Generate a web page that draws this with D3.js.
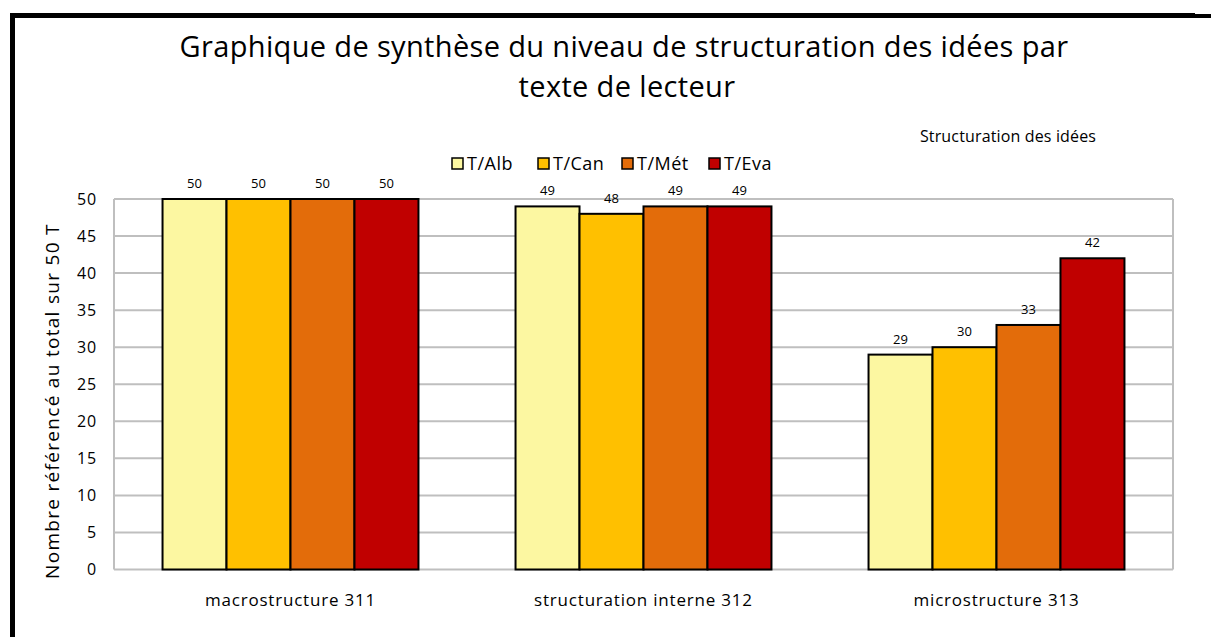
<!DOCTYPE html>
<html>
<head>
<meta charset="utf-8">
<script src="https://cdn.jsdelivr.net/npm/d3@7"></script>
<style>
  body { margin: 0; background: #fff; }
  svg { display: block; font-family: "Open Sans", "Noto Sans", sans-serif; }
</style>
</head>
<body>
<svg id="chart" width="1211" height="637"></svg>
<script>
// chart data
const categories = ["macrostructure 311", "structuration interne 312", "microstructure 313"]
const seriesNames = ["T/Alb", "T/Can", "T/Mét", "T/Eva"]
const seriesColors = ["#FCF7A1", "#FFC000", "#E36C0A", "#C00000"]
const valAlb = [50, 49, 29]
const valCan = [50, 48, 30]
const valMet = [50, 49, 33]
const valEva = [50, 49, 42]
const yTicks = [0, 5, 10, 15, 20, 25, 30, 35, 40, 45, 50]

const seriesValues = [valAlb, valCan, valMet, valEva]

const svg = d3.select("#chart")

const margin = {left: 114, right: 1173, top: 199, bottom: 569.5}

// frame lines (black border at top and left)
svg.append("rect").attr("x", 10).attr("y", 13).attr("width", 1185).attr("height", 5).attr("fill", "#000")
svg.append("rect").attr("x", 1193).attr("y", 14).attr("width", 18).attr("height", 4).attr("fill", "#000")
svg.append("rect").attr("x", 10).attr("y", 13).attr("width", 5).attr("height", 624).attr("fill", "#000")

// title
const title = svg.append("text")
    .attr("text-anchor", "middle")
    .attr("font-size", 29)
    .attr("letter-spacing", 0.35)
    .attr("fill", "#000")
title.append("tspan").attr("x", 624).attr("y", 57).text("Graphique de synthèse du niveau de structuration des idées par")
title.append("tspan").attr("x", 627).attr("y", 97).text("texte de lecteur")

svg.append("text")
    .attr("x", 1008)
    .attr("y", 142)
    .attr("text-anchor", "middle")
    .attr("font-size", 16)
    .attr("letter-spacing", 0.15)
    .text("Structuration des idées")

const x0 = d3.scaleBand()
    .domain(categories)
    .range([margin.left, margin.right])
    .paddingInner(0.275)
    .paddingOuter(0.1375)

const x1 = d3.scaleBand()
    .domain(seriesNames)
    .range([0, x0.bandwidth()])

const y = d3.scaleLinear()
    .domain([0, 50])
    .range([margin.bottom, margin.top])

// gridlines
svg.append("g")
    .selectAll("line")
    .data(yTicks)
    .join("line")
    .attr("x1", margin.left)
    .attr("x2", margin.right)
    .attr("y1", (d) => y(d))
    .attr("y2", (d) => y(d))
    .attr("stroke", "#bfbfbf")
    .attr("stroke-width", 2)

// plot side borders
svg.append("line").attr("x1", margin.left).attr("x2", margin.left)
    .attr("y1", margin.top).attr("y2", margin.bottom)
    .attr("stroke", "#bfbfbf").attr("stroke-width", 2)
svg.append("line").attr("x1", margin.right).attr("x2", margin.right)
    .attr("y1", margin.top).attr("y2", margin.bottom)
    .attr("stroke", "#bfbfbf").attr("stroke-width", 2)

// y tick labels
svg.append("g")
    .selectAll("text")
    .data(yTicks)
    .join("text")
    .attr("x", 97)
    .attr("y", (d) => y(d))
    .attr("dy", "0.36em")
    .attr("text-anchor", "end")
    .attr("font-size", 16)
    .attr("letter-spacing", 0.8)
    .text((d) => d)

// y axis title
svg.append("text")
    .attr("transform", "translate(52,401) rotate(-90)")
    .attr("dy", "0.36em")
    .attr("text-anchor", "middle")
    .attr("font-size", 19)
    .attr("letter-spacing", 1.3)
    .text("Nombre référencé au total sur 50 T")

// bars
const barData = []
categories.forEach((c, ci) => {
    seriesNames.forEach((s, si) => {
        barData.push({cat: c, series: s, value: seriesValues[si][ci], color: seriesColors[si]})
    })
})

svg.append("g")
    .selectAll("rect")
    .data(barData)
    .join("rect")
    .attr("x", (d) => x0(d.cat) + x1(d.series))
    .attr("y", (d) => y(d.value))
    .attr("width", x1.bandwidth())
    .attr("height", (d) => y(0) - y(d.value))
    .attr("fill", (d) => d.color)
    .attr("stroke", "#000")
    .attr("stroke-width", 2)

// value labels
svg.append("g")
    .selectAll("text")
    .data(barData)
    .join("text")
    .attr("x", (d) => x0(d.cat) + x1(d.series) + x1.bandwidth() / 2)
    .attr("y", (d) => y(d.value) - 11)
    .attr("text-anchor", "middle")
    .attr("font-size", 13)
    .text((d) => d.value)

// x labels
svg.append("g")
    .selectAll("text")
    .data(categories)
    .join("text")
    .attr("x", (d) => x0(d) + x0.bandwidth() / 2)
    .attr("y", 606)
    .attr("text-anchor", "middle")
    .attr("font-size", 17)
    .attr("letter-spacing", 0.8)
    .text((d) => d)

// legend
const legendX = [452, 538, 622, 709]
const legend = svg.append("g")
    .selectAll("g")
    .data(seriesNames)
    .join("g")
    .attr("transform", (d, i) => "translate(" + legendX[i] + ",158)")
legend.append("rect")
    .attr("width", 11)
    .attr("height", 11)
    .attr("fill", (d, i) => seriesColors[i])
    .attr("stroke", "#000")
    .attr("stroke-width", 1.5)
legend.append("text")
    .attr("x", 15)
    .attr("y", 12)
    .attr("font-size", 18)
    .attr("letter-spacing", 0.5)
    .text((d) => d)
</script>
</body>
</html>
